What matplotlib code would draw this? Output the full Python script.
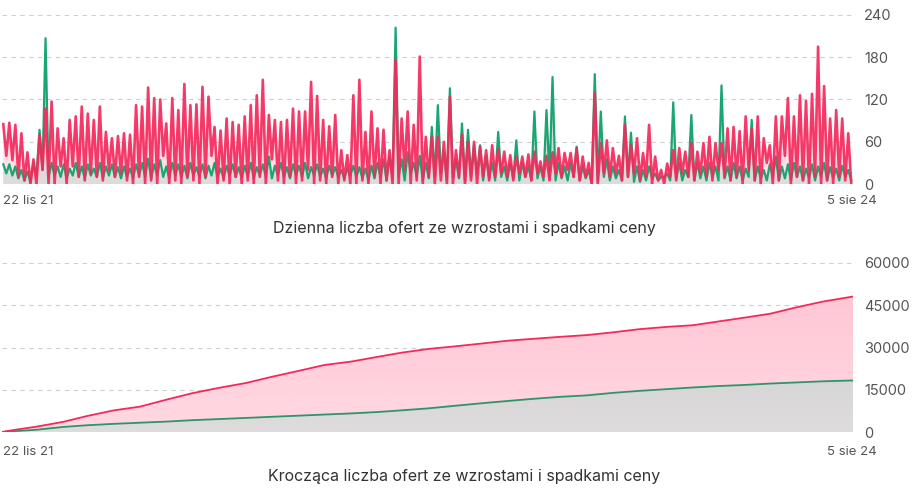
import numpy as np
import pandas as pd
import matplotlib
matplotlib.use('Agg')
import matplotlib.pyplot as plt
import matplotlib.dates as mdates
from matplotlib.colors import LinearSegmentedColormap

plt.rcParams['font.family'] = ['Inter', 'DejaVu Sans']

start = pd.Timestamp('2021-11-22')
end = pd.Timestamp('2024-08-05')

# daily chart, read at half-week resolution: weekly high and weekly low
red_peak = [85, 87, 84, 72, 45, 35, 70, 107, 117, 79, 65, 91, 96, 110, 100, 91, 110, 74, 65, 68,
            72, 70, 112, 110, 137, 122, 120, 86, 122, 105, 142, 112, 113, 138, 124, 81, 76, 93, 88, 84,
            96, 112, 126, 148, 98, 91, 88, 91, 107, 103, 103, 145, 125, 91, 82, 98, 48, 41, 126, 148,
            74, 103, 79, 77, 48, 176, 93, 103, 84, 181, 67, 67, 67, 60, 124, 48, 70, 60, 60, 53,
            48, 55, 50, 46, 41, 39, 39, 42, 46, 32, 40, 45, 51, 44, 44, 51, 39, 30, 129, 58,
            62, 51, 40, 84, 55, 65, 44, 84, 39, 20, 29, 48, 51, 46, 58, 46, 58, 67, 58, 58,
            79, 81, 75, 96, 79, 96, 65, 55, 96, 96, 122, 96, 126, 118, 128, 195, 139, 93, 105, 93, 72]
red_low = [40, 34, 10, 5, 0, 0, 20, 0, 0, 25, 0, 25, 10, 5, 15, 10, 5, 20, 10, 15,
           5, 0, 10, 0, 5, 0, 40, 0, 5, 0, 10, 5, 0, 10, 40, 0, 5, 0, 10, 0,
           5, 0, 10, 0, 35, 5, 0, 10, 0, 5, 20, 0, 5, 0, 10, 0, 5, 0, 0, 5,
           0, 10, 0, 5, 0, 0, 20, 0, 5, 0, 10, 0, 5, 0, 0, 10, 0, 5, 0, 10,
           5, 10, 15, 10, 5, 15, 10, 5, 15, 10, 5, 15, 10, 20, 10, 5, 10, 0, 0, 15,
           10, 15, 5, 10, 15, 5, 10, 0, 5, 0, 10, 5, 15, 10, 5, 15, 10, 5, 20, 10,
           5, 10, 0, 20, 5, 0, 30, 0, 5, 40, 0, 10, 5, 0, 10, 0, 5, 0, 10, 5, 0]
green_peak = [28, 28, 25, 20, 18, 30, 77, 207, 30, 25, 28, 22, 30, 25, 28, 22, 30, 25, 28, 24,
              25, 22, 28, 30, 36, 28, 34, 25, 30, 28, 26, 30, 24, 28, 26, 30, 22, 26, 28, 24,
              26, 30, 24, 28, 39, 26, 30, 24, 28, 26, 30, 24, 28, 22, 26, 24, 20, 22, 26, 24,
              22, 26, 30, 35, 40, 222, 35, 45, 30, 40, 30, 81, 112, 45, 136, 35, 86, 77, 55, 55,
              40, 30, 74, 25, 30, 62, 30, 25, 103, 25, 105, 152, 30, 25, 30, 53, 25, 20, 156, 103,
              35, 25, 20, 96, 73, 25, 20, 25, 15, 10, 15, 116, 30, 20, 98, 30, 25, 30, 25, 140,
              25, 30, 25, 22, 91, 25, 20, 28, 39, 25, 28, 30, 25, 22, 28, 25, 30, 24, 22, 26, 20]
green_low = [15, 12, 8, 5, 3, 10, 20, 10, 12, 10, 8, 12, 10, 8, 12, 10, 8, 12, 10, 8,
             10, 8, 12, 10, 8, 12, 10, 8, 12, 10, 8, 12, 10, 8, 12, 10, 8, 12, 10, 8,
             10, 8, 12, 10, 8, 12, 10, 8, 12, 10, 8, 12, 10, 8, 12, 10, 8, 12, 10, 8,
             5, 8, 10, 5, 8, 10, 5, 15, 10, 5, 8, 10, 15, 5, 10, 8, 5, 10, 15, 5,
             8, 5, 10, 5, 8, 5, 10, 5, 8, 5, 10, 5, 8, 5, 10, 5, 8, 0, 5, 10,
             5, 8, 5, 10, 3, 3, 5, 8, 5, 10, 5, 8, 5, 10, 5, 8, 5, 10, 5, 8,
             5, 8, 5, 10, 5, 8, 5, 10, 5, 8, 5, 10, 5, 8, 5, 10, 5, 8, 5, 10, 5]

# cumulative chart, monthly readings
cum_dates = ['2021-11-22', '2021-12-01', '2022-01-01', '2022-02-01', '2022-03-01', '2022-04-01',
             '2022-05-01', '2022-06-01', '2022-07-01', '2022-08-01', '2022-09-01', '2022-10-01',
             '2022-11-01', '2022-12-01', '2023-01-01', '2023-02-01', '2023-03-01', '2023-04-01',
             '2023-05-01', '2023-06-01', '2023-07-01', '2023-08-01', '2023-09-01', '2023-10-01',
             '2023-11-01', '2023-12-01', '2024-01-01', '2024-02-01', '2024-03-01', '2024-04-01',
             '2024-05-01', '2024-06-01', '2024-07-01', '2024-08-05']
cum_red = [0, 500, 1900, 3600, 5700, 7700, 9000, 11500, 13800, 15700, 17400, 19600,
           21700, 23800, 25000, 26700, 28200, 29500, 30400, 31400, 32400, 33100, 33800, 34400,
           35400, 36500, 37300, 37900, 39200, 40600, 42000, 44300, 46300, 48100]
cum_green = [0, 200, 800, 1800, 2400, 2900, 3300, 3700, 4200, 4600, 5000, 5400,
             5800, 6200, 6600, 7100, 7700, 8400, 9300, 10200, 11000, 11800, 12500, 13000,
             13900, 14600, 15200, 15800, 16300, 16700, 17200, 17600, 18000, 18300]

top_ticks = [0, 60, 120, 180, 240]
bottom_ticks = [0, 15000, 30000, 45000, 60000]

RED = '#f5295c'
GREEN = '#1aa672'
GREEN_DARK = '#2e9469'

weeks = pd.date_range(start, periods=len(red_peak), freq='7D')
dx, red_d, green_d = [], [], []
for i, w in enumerate(weeks):
    dx += [w + pd.Timedelta(hours=36), w + pd.Timedelta(hours=120)]
    red_d += [red_peak[i], red_low[i]]
    green_d += [green_peak[i], green_low[i]]
dx = pd.to_datetime(dx)
cx = pd.to_datetime(cum_dates)


def gradient_fill(ax, x, y, c_top, c_bottom, ymax, z):
    poly = ax.fill_between(x, 0, y, facecolor='none', edgecolor='none', zorder=z)
    cmap = LinearSegmentedColormap.from_list('g', [c_bottom, c_top])
    xn = mdates.date2num(x)
    im = ax.imshow(np.linspace(0, 1, 256).reshape(-1, 1), cmap=cmap, aspect='auto',
                   extent=[xn[0], xn[-1], 0, ymax], origin='lower', zorder=z,
                   interpolation='bilinear')
    im.set_clip_path(poly.get_paths()[0], transform=ax.transData)


def style(ax, ticks):
    for s in ax.spines.values():
        s.set_visible(False)
    ax.set_xlim(start, end)
    ax.set_ylim(ticks[0], ticks[-1])
    ax.set_yticks(ticks)
    ax.set_yticklabels([str(t) for t in ticks])
    ax.yaxis.tick_right()
    ax.tick_params(axis='y', length=0, pad=8, labelsize=10.5, labelcolor='#555555')
    ax.set_xticks([])
    ax.grid(axis='y', linestyle=(0, (4, 4)), color='#cfcfcf', linewidth=0.8, zorder=0)
    ax.set_axisbelow(True)


W, H = 915, 493
fig = plt.figure(figsize=(W / 100, H / 100), dpi=100)

ax1 = fig.add_axes([2 / W, 1 - 184 / H, 851 / W, 169 / H])
gradient_fill(ax1, dx, red_d, '#ffc6d4', '#ffe3ea', 240, 1)
gradient_fill(ax1, dx, green_d, '#cfcfcf', '#dedcdc', 240, 2)
ax1.plot(dx, green_d, color=GREEN, lw=1.6, zorder=3)
ax1.plot(dx, red_d, color=RED, lw=1.9, alpha=0.92, zorder=4)
style(ax1, top_ticks)

ax2 = fig.add_axes([2 / W, 1 - 432 / H, 851 / W, 169 / H])
gradient_fill(ax2, cx, cum_red, '#ffc2d1', '#ffd9e2', 60000, 1)
gradient_fill(ax2, cx, cum_green, '#c9c9c9', '#dedcdc', 60000, 2)
ax2.plot(cx, cum_green, color=GREEN_DARK, lw=1.3, zorder=3)
ax2.plot(cx, cum_red, color=RED, lw=1.3, zorder=4)
style(ax2, bottom_ticks)

for yc in (201, 452):
    fig.text(3 / W, 1 - yc / H, '22 lis 21', ha='left', va='center', fontsize=9.5, color='#555555')
    fig.text(852 / W, 1 - yc / H, '5 sie 24', ha='center', va='center', fontsize=9.5, color='#555555')

fig.text(464 / W, 1 - 228 / H, 'Dzienna liczba ofert ze wzrostami i spadkami ceny',
         ha='center', va='center', fontsize=11.5, color='#333333')
fig.text(464 / W, 1 - 476 / H, 'Krocząca liczba ofert ze wzrostami i spadkami ceny',
         ha='center', va='center', fontsize=11.5, color='#333333')

fig.savefig('out.png', dpi=100)
